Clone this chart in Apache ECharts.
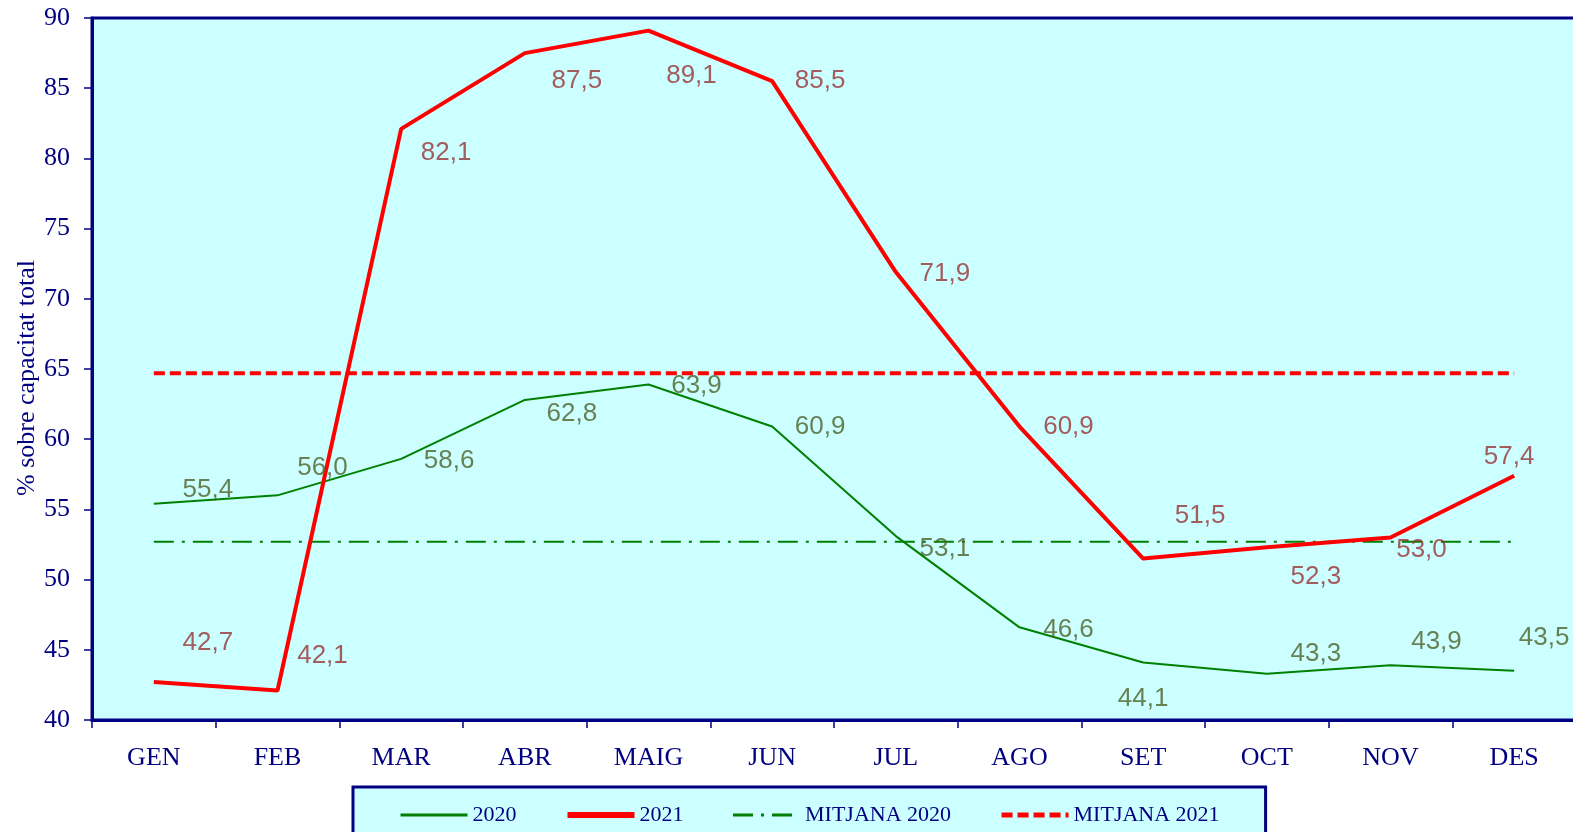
<!DOCTYPE html>
<html>
<head>
<meta charset="utf-8">
<script src="https://cdn.jsdelivr.net/npm/echarts@6/dist/echarts.min.js"></script>
<style>
  html, body { margin: 0; padding: 0; background: #fff; }
  #chart { width: 1573px; height: 832px; }
</style>
</head>
<body>
<div id="chart"></div>
<script>
  // dades
  var months = ['GEN', 'FEB', 'MAR', 'ABR', 'MAIG', 'JUN', 'JUL', 'AGO', 'SET', 'OCT', 'NOV', 'DES']
  var values2020 = [55.4, 56.0, 58.6, 62.8, 63.9, 60.9, 53.1, 46.6, 44.1, 43.3, 43.9, 43.5]
  var values2021 = [42.7, 42.1, 82.1, 87.5, 89.1, 85.5, 71.9, 60.9, 51.5, 52.3, 53.0, 57.4]
  var mean2020 = [52.7, 52.7, 52.7, 52.7, 52.7, 52.7, 52.7, 52.7, 52.7, 52.7, 52.7, 52.7]
  var mean2021 = [64.7, 64.7, 64.7, 64.7, 64.7, 64.7, 64.7, 64.7, 64.7, 64.7, 64.7, 64.7]
  var seriesNames = ['2020', '2021', 'MITJANA 2020', 'MITJANA 2021']
  var yName = '% sobre capacitat total'

  // desplacament de les etiquetes (px)
  var offsets2020 = [[54, -14], [45, -28], [48, 2], [47, 14], [48, 1], [48, 0], [49, 13], [49, 2], [0, 36], [49, -20], [46, -23], [30, -33]]
  var offsets2021 = [[54, -39], [45, -35], [45, 24], [52, 28], [43, 45], [48, 0], [49, 2], [49, 0], [57, -43], [49, 30], [31, 12], [-5, -19]]

  var navy = '#000080'
  var serif = '"Liberation Serif", "Times New Roman", serif'
  var sans = '"Liberation Sans", Arial, sans-serif'

  function fmt (v) {
    return v.toFixed(1).replace('.', ',')
  }

  function labelData (vals, offs) {
    return vals.map(function (v, i) {
      return { value: v, label: { offset: offs[i] } }
    })
  }

  function labelSeries (name, vals, offs, color) {
    return {
      name: name,
      type: 'scatter',
      data: labelData(vals, offs),
      symbolSize: 1,
      silent: true,
      z: 5,
      itemStyle: { color: 'transparent' },
      label: {
        show: true,
        position: 'inside',
        align: 'center',
        verticalAlign: 'middle',
        color: color,
        fontFamily: sans,
        fontSize: 26,
        formatter: function (p) { return fmt(p.value) }
      }
    }
  }

  var chart = echarts.init(document.getElementById('chart'))
  var option = {
    animation: false,
    grid: {
      left: 92,
      top: 18,
      right: -3,
      bottom: 112,
      outerBoundsMode: 'none',
      containLabel: false,
      show: true,
      backgroundColor: '#ccffff',
      borderColor: navy,
      borderWidth: 3
    },
    legend: {
      data: [
        { name: '2020', lineStyle: { width: 3 } },
        { name: '2021', lineStyle: { width: 6 } },
        { name: 'MITJANA 2020', lineStyle: { width: 3 } },
        { name: 'MITJANA 2021', lineStyle: { width: 5 } }
      ],
      left: 353,
      top: 787,
      padding: [17, 46, 30, 46],
      itemWidth: 67,
      itemHeight: 14,
      itemGap: 48,
      itemStyle: { opacity: 0 },
      backgroundColor: '#ccffff',
      borderColor: navy,
      borderWidth: 3,
      textStyle: { color: navy, fontFamily: serif, fontSize: 22 }
    },
    xAxis: {
      type: 'category',
      data: months,
      boundaryGap: true,
      axisLine: { lineStyle: { color: navy, width: 3 } },
      axisTick: { show: true, length: 8, lineStyle: { color: navy, width: 1.5 } },
      axisLabel: { color: navy, fontFamily: serif, fontSize: 26, margin: 25 },
      splitLine: { show: false }
    },
    yAxis: {
      type: 'value',
      min: 40,
      max: 90,
      interval: 5,
      name: yName,
      nameLocation: 'middle',
      nameRotate: 90,
      nameGap: 52,
      nameMoveOverlap: false,
      nameTextStyle: { color: navy, fontFamily: serif, fontSize: 26, padding: [0, 18, 0, 0] },
      axisLine: { show: true, lineStyle: { color: navy, width: 3 } },
      axisTick: { show: true, length: 8, lineStyle: { color: navy, width: 1.5 } },
      axisLabel: { color: navy, fontFamily: serif, fontSize: 26, margin: 22 },
      splitLine: { show: false }
    },
    series: [
      {
        name: '2020',
        type: 'line',
        data: values2020,
        symbol: 'none',
        z: 3,
        itemStyle: { color: '#008000' },
        lineStyle: { color: '#008000', width: 2 }
      },
      {
        name: '2021',
        type: 'line',
        data: values2021,
        symbol: 'none',
        z: 4,
        itemStyle: { color: '#ff0000' },
        lineStyle: { color: '#ff0000', width: 4 }
      },
      {
        name: 'MITJANA 2020',
        type: 'line',
        data: mean2020,
        symbol: 'none',
        z: 2,
        itemStyle: { color: '#008000' },
        lineStyle: { color: '#008000', width: 2, type: [20, 8, 3, 8] }
      },
      {
        name: 'MITJANA 2021',
        type: 'line',
        data: mean2021,
        symbol: 'none',
        z: 2,
        itemStyle: { color: '#ff0000' },
        lineStyle: { color: '#ff0000', width: 4, type: [11, 5] }
      },
      labelSeries('lbl2020', values2020, offsets2020, '#4f6228'),
      labelSeries('lbl2021', values2021, offsets2021, '#993333')
    ]
  }
  chart.setOption(option)
  window.addEventListener('resize', chart.resize)
</script>
</body>
</html>
